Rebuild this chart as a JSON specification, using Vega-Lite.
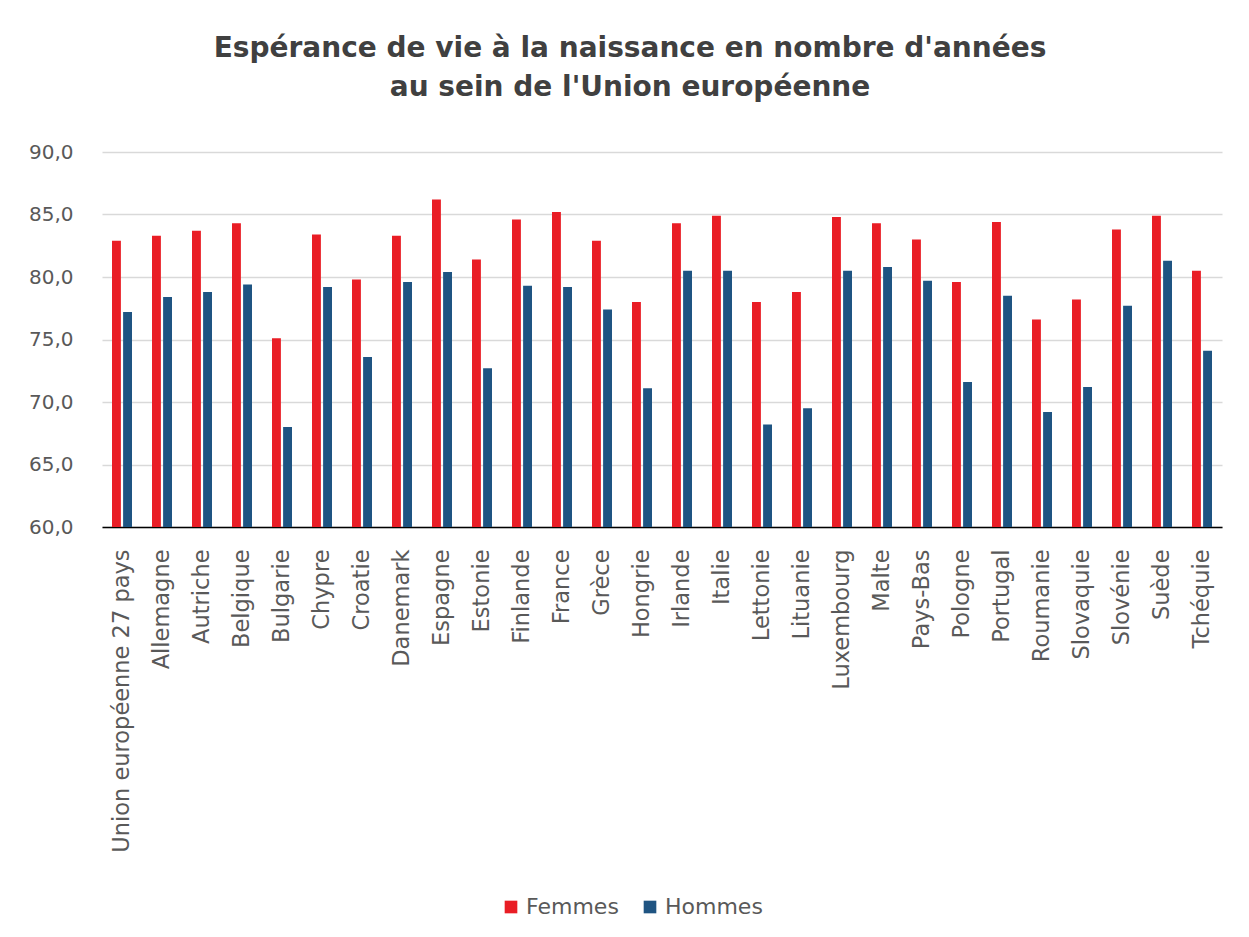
{
  "$schema": "https://vega.github.io/schema/vega-lite/v6.json",
  "autosize": {"type": "none"},
  "width": 1120,
  "height": 375,
  "padding": {"left": 102, "top": 152, "right": 27, "bottom": 410},
  "background": "white",
  "title": {
    "text": ["Espérance de vie à la naissance en nombre d'années", "au sein de l'Union européenne"],
    "anchor": "middle",
    "dx": -32,
    "offset": 40,
    "font": "DejaVu Sans",
    "fontSize": 28,
    "fontWeight": "bold",
    "color": "#404040",
    "lineHeight": 39
  },
  "data": {
    "values": [
      {"pays": "Union européenne 27 pays", "sexe": "Femmes", "valeur": 82.9},
      {"pays": "Union européenne 27 pays", "sexe": "Hommes", "valeur": 77.2},
      {"pays": "Allemagne", "sexe": "Femmes", "valeur": 83.3},
      {"pays": "Allemagne", "sexe": "Hommes", "valeur": 78.4},
      {"pays": "Autriche", "sexe": "Femmes", "valeur": 83.7},
      {"pays": "Autriche", "sexe": "Hommes", "valeur": 78.8},
      {"pays": "Belgique", "sexe": "Femmes", "valeur": 84.3},
      {"pays": "Belgique", "sexe": "Hommes", "valeur": 79.4},
      {"pays": "Bulgarie", "sexe": "Femmes", "valeur": 75.1},
      {"pays": "Bulgarie", "sexe": "Hommes", "valeur": 68.0},
      {"pays": "Chypre", "sexe": "Femmes", "valeur": 83.4},
      {"pays": "Chypre", "sexe": "Hommes", "valeur": 79.2},
      {"pays": "Croatie", "sexe": "Femmes", "valeur": 79.8},
      {"pays": "Croatie", "sexe": "Hommes", "valeur": 73.6},
      {"pays": "Danemark", "sexe": "Femmes", "valeur": 83.3},
      {"pays": "Danemark", "sexe": "Hommes", "valeur": 79.6},
      {"pays": "Espagne", "sexe": "Femmes", "valeur": 86.2},
      {"pays": "Espagne", "sexe": "Hommes", "valeur": 80.4},
      {"pays": "Estonie", "sexe": "Femmes", "valeur": 81.4},
      {"pays": "Estonie", "sexe": "Hommes", "valeur": 72.7},
      {"pays": "Finlande", "sexe": "Femmes", "valeur": 84.6},
      {"pays": "Finlande", "sexe": "Hommes", "valeur": 79.3},
      {"pays": "France", "sexe": "Femmes", "valeur": 85.2},
      {"pays": "France", "sexe": "Hommes", "valeur": 79.2},
      {"pays": "Grèce", "sexe": "Femmes", "valeur": 82.9},
      {"pays": "Grèce", "sexe": "Hommes", "valeur": 77.4},
      {"pays": "Hongrie", "sexe": "Femmes", "valeur": 78.0},
      {"pays": "Hongrie", "sexe": "Hommes", "valeur": 71.1},
      {"pays": "Irlande", "sexe": "Femmes", "valeur": 84.3},
      {"pays": "Irlande", "sexe": "Hommes", "valeur": 80.5},
      {"pays": "Italie", "sexe": "Femmes", "valeur": 84.9},
      {"pays": "Italie", "sexe": "Hommes", "valeur": 80.5},
      {"pays": "Lettonie", "sexe": "Femmes", "valeur": 78.0},
      {"pays": "Lettonie", "sexe": "Hommes", "valeur": 68.2},
      {"pays": "Lituanie", "sexe": "Femmes", "valeur": 78.8},
      {"pays": "Lituanie", "sexe": "Hommes", "valeur": 69.5},
      {"pays": "Luxembourg", "sexe": "Femmes", "valeur": 84.8},
      {"pays": "Luxembourg", "sexe": "Hommes", "valeur": 80.5},
      {"pays": "Malte", "sexe": "Femmes", "valeur": 84.3},
      {"pays": "Malte", "sexe": "Hommes", "valeur": 80.8},
      {"pays": "Pays-Bas", "sexe": "Femmes", "valeur": 83.0},
      {"pays": "Pays-Bas", "sexe": "Hommes", "valeur": 79.7},
      {"pays": "Pologne", "sexe": "Femmes", "valeur": 79.6},
      {"pays": "Pologne", "sexe": "Hommes", "valeur": 71.6},
      {"pays": "Portugal", "sexe": "Femmes", "valeur": 84.4},
      {"pays": "Portugal", "sexe": "Hommes", "valeur": 78.5},
      {"pays": "Roumanie", "sexe": "Femmes", "valeur": 76.6},
      {"pays": "Roumanie", "sexe": "Hommes", "valeur": 69.2},
      {"pays": "Slovaquie", "sexe": "Femmes", "valeur": 78.2},
      {"pays": "Slovaquie", "sexe": "Hommes", "valeur": 71.2},
      {"pays": "Slovénie", "sexe": "Femmes", "valeur": 83.8},
      {"pays": "Slovénie", "sexe": "Hommes", "valeur": 77.7},
      {"pays": "Suède", "sexe": "Femmes", "valeur": 84.9},
      {"pays": "Suède", "sexe": "Hommes", "valeur": 81.3},
      {"pays": "Tchéquie", "sexe": "Femmes", "valeur": 80.5},
      {"pays": "Tchéquie", "sexe": "Hommes", "valeur": 74.1}
    ]
  },
  "mark": {"type": "bar", "clip": true},
  "encoding": {
    "x": {
      "field": "pays",
      "type": "nominal",
      "sort": null,
      "scale": {"paddingInner": 0.5, "paddingOuter": 0.25},
      "axis": {
        "title": null,
        "labelAngle": -90,
        "labelFont": "DejaVu Sans",
        "labelFontSize": 22.5,
        "labelColor": "#595959",
        "labelPadding": 22,
        "labelLimit": 0,
        "ticks": false,
        "domainColor": "#000000",
        "domainWidth": 1.5,
        "grid": false,
        "labelOverlap": false
      }
    },
    "xOffset": {
      "field": "sexe",
      "type": "nominal",
      "scale": {"paddingInner": 0.2, "paddingOuter": 0}
    },
    "y": {
      "field": "valeur",
      "type": "quantitative",
      "scale": {"domain": [60, 90], "zero": false, "nice": false},
      "axis": {
        "title": null,
        "values": [60, 65, 70, 75, 80, 85, 90],
        "labelExpr": "replace(format(datum.value, '.1f'), '.', ',')",
        "labelFont": "DejaVu Sans",
        "labelFontSize": 20,
        "labelColor": "#595959",
        "ticks": true,
        "tickSize": 10,
        "tickColor": "transparent",
        "labelPadding": 19,
        "domain": false,
        "grid": true,
        "gridColor": "#d9d9d9",
        "gridWidth": 1.5
      }
    },
    "color": {
      "field": "sexe",
      "type": "nominal",
      "scale": {"domain": ["Femmes", "Hommes"], "range": ["#E91D25", "#1F5482"]},
      "legend": {
        "title": null,
        "orient": "none",
        "legendX": 398,
        "legendY": 744,
        "direction": "horizontal",
        "symbolType": "square",
        "symbolSize": 160,
        "symbolStrokeWidth": 0,
        "labelFont": "DejaVu Sans",
        "labelFontSize": 22,
        "labelColor": "#595959",
        "labelOffset": 4,
        "columnPadding": 20
      }
    }
  },
  "config": {"view": {"stroke": null}}
}
